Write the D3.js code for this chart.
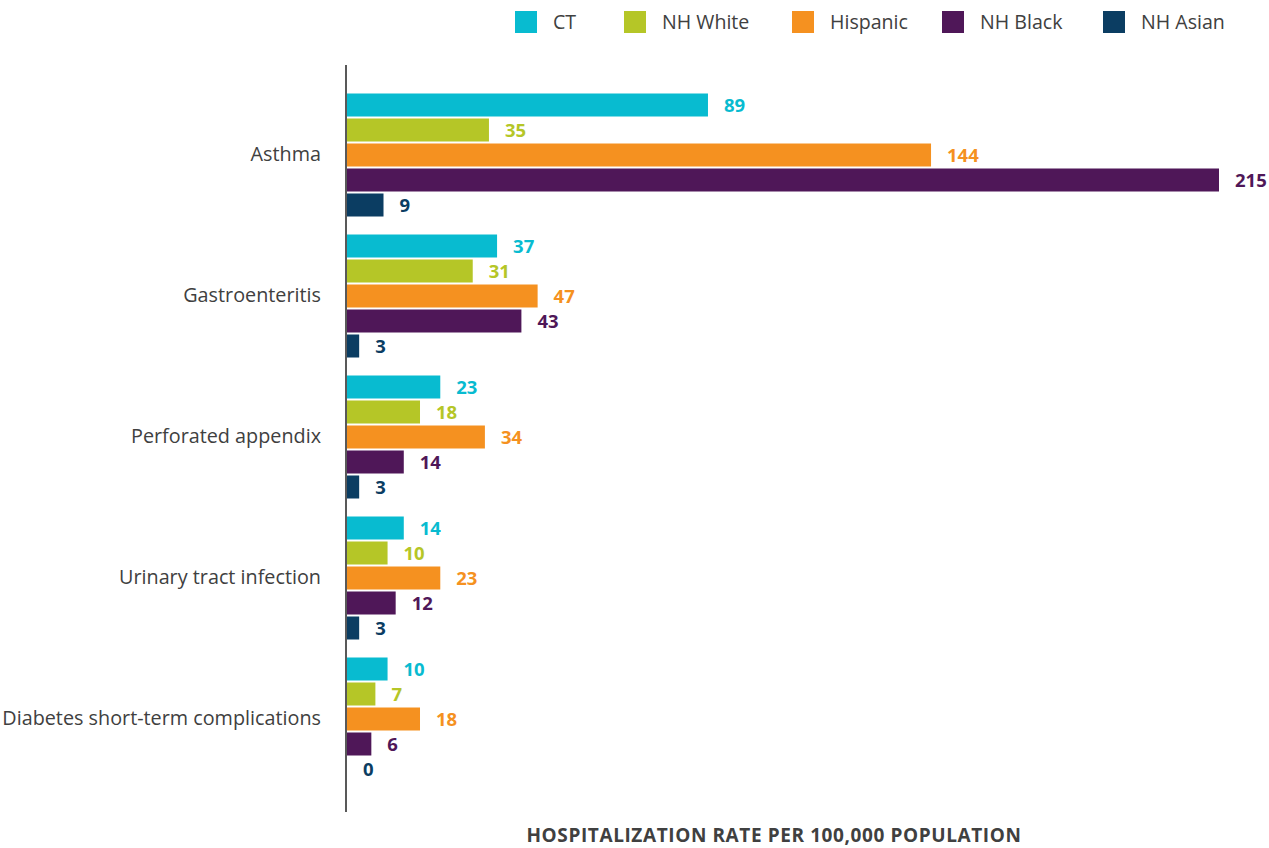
<!DOCTYPE html>
<html>
<head>
<meta charset="utf-8">
<script src="https://cdn.jsdelivr.net/npm/d3@7"></script>
<style>
  html, body { margin: 0; padding: 0; background: #fff; }
  svg { display: block; }
  text { font-family: "Open Sans", sans-serif; }
</style>
</head>
<body>
<svg id="chart" width="1269" height="848"></svg>
<script>
// Conditions (top to bottom) and population groups
const categories = ["Asthma", "Gastroenteritis", "Perforated appendix", "Urinary tract infection", "Diabetes short-term complications"];
const seriesNames = ["CT", "NH White", "Hispanic", "NH Black", "NH Asian"];
const seriesColors = ["#08bbd0", "#b5c627", "#f59120", "#4f1758", "#0b3d62"];

// Hospitalization rate per 100,000 population, one array per group
const ctValues       = [89, 37, 23, 14, 10];
const nhWhiteValues  = [35, 31, 18, 10, 7];
const hispanicValues = [144, 47, 34, 23, 18];
const nhBlackValues  = [215, 43, 14, 12, 6];
const nhAsianValues  = [9, 3, 3, 3, 0];

const seriesValues = [ctValues, nhWhiteValues, hispanicValues, nhBlackValues, nhAsianValues];
const axisTitle = "HOSPITALIZATION RATE PER 100,000 POPULATION";

const svg = d3.select("#chart");

const x = d3.scaleLinear().domain([0, 215]).range([347, 1219]);
const y = d3.scaleBand().domain(categories).range([84.5, 789.5]).padding(0);
const ySub = d3.scaleBand().domain(seriesNames).range([0, 123]).paddingInner(0.08);

const rows = categories.map((c, i) => ({
  category: c,
  values: seriesNames.map((s, j) => ({ series: s, color: seriesColors[j], value: seriesValues[j][i] }))
}));

const groups = svg.selectAll("g.group")
  .data(rows)
  .join("g")
  .attr("class", "group")
  .attr("transform", d => `translate(0,${y(d.category) + y.bandwidth() / 2 - 61.5})`);

groups.selectAll("rect")
  .data(d => d.values)
  .join("rect")
  .attr("x", x(0))
  .attr("y", d => ySub(d.series))
  .attr("width", d => x(d.value) - x(0))
  .attr("height", ySub.bandwidth())
  .attr("fill", d => d.color);

groups.selectAll("text.val")
  .data(d => d.values)
  .join("text")
  .attr("class", "val")
  .attr("x", d => x(d.value) + 16)
  .attr("y", d => ySub(d.series) + ySub.bandwidth() / 2)
  .attr("dy", "0.36em")
  .attr("fill", d => d.color)
  .attr("font-size", 18.5)
  .attr("font-weight", 700)
  .text(d => d.value);

// Category axis
const yAxis = d3.axisLeft(y).tickSize(0).tickPadding(25);
const ga = svg.append("g").attr("transform", "translate(346,0)").call(yAxis);
ga.select(".domain").remove();
ga.selectAll(".tick text")
  .attr("font-family", "'Open Sans', sans-serif")
  .attr("font-size", 19.8)
  .attr("fill", "#404040");

svg.append("line")
  .attr("x1", 346).attr("x2", 346)
  .attr("y1", 65).attr("y2", 812)
  .attr("stroke", "#595959")
  .attr("stroke-width", 2);

// Axis title
svg.append("text")
  .attr("x", 774)
  .attr("y", 842)
  .attr("text-anchor", "middle")
  .attr("font-size", 19)
  .attr("font-weight", 700)
  .attr("letter-spacing", "0.6px")
  .attr("fill", "#404040")
  .text(axisTitle);

// Legend
const legendX = [515, 624, 792, 942, 1103];
const legend = svg.selectAll("g.legend")
  .data(seriesNames)
  .join("g")
  .attr("class", "legend")
  .attr("transform", (d, i) => `translate(${legendX[i]},11)`);
legend.append("rect")
  .attr("width", 22).attr("height", 22)
  .attr("fill", (d, i) => seriesColors[i]);
legend.append("text")
  .attr("x", 38).attr("y", 11)
  .attr("dy", "0.36em")
  .attr("font-size", 19.6)
  .attr("fill", "#404040")
  .text(d => d);
</script>
</body>
</html>
